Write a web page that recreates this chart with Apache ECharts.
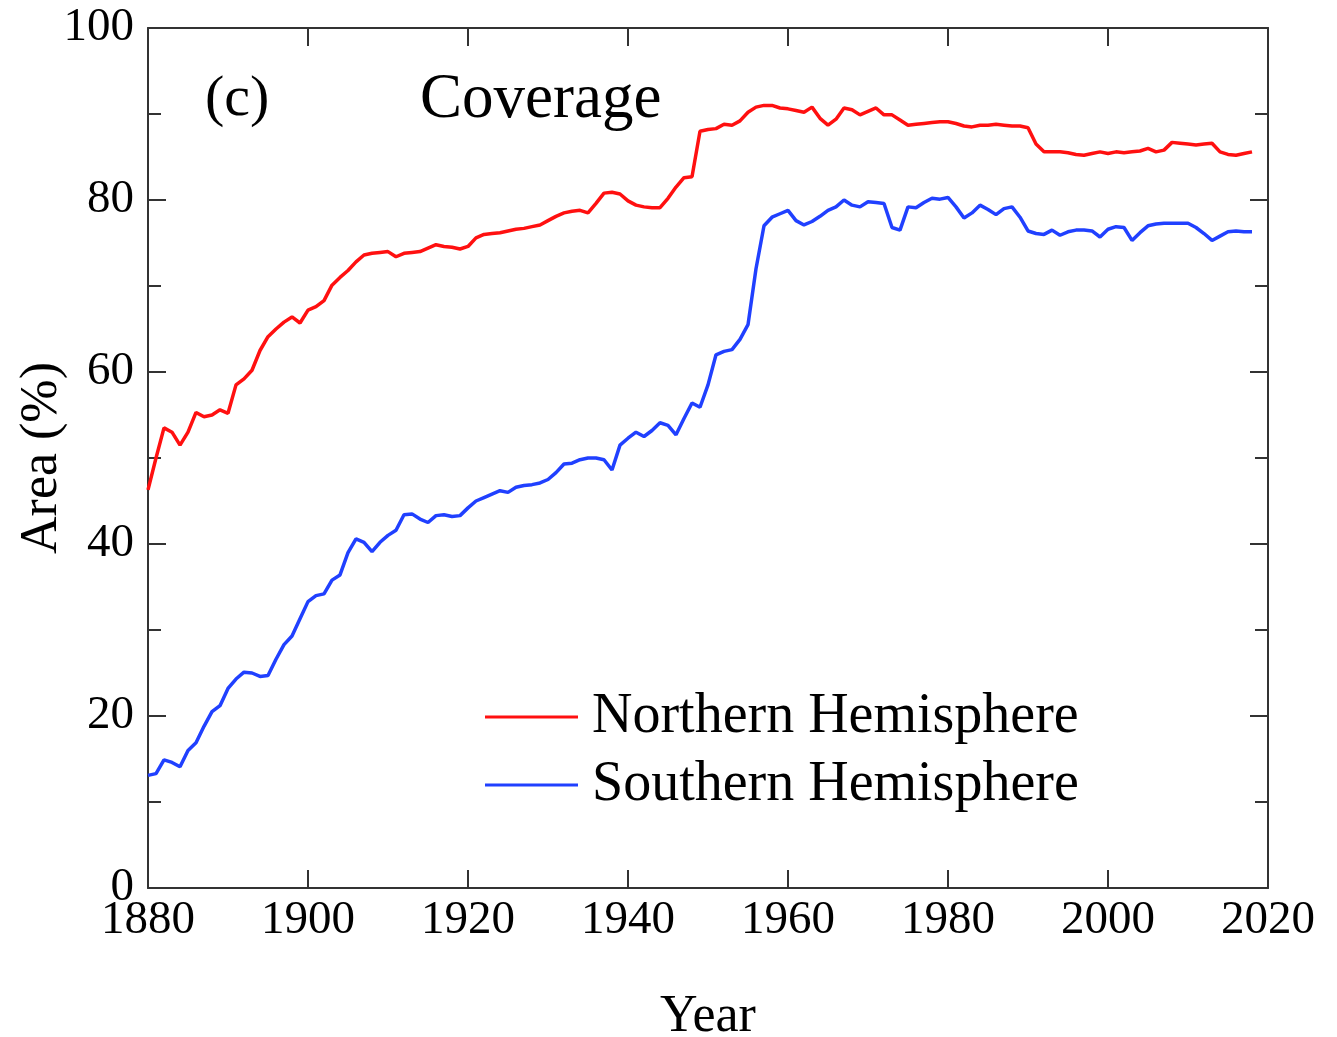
<!DOCTYPE html>
<html>
<head>
<meta charset="utf-8">
<title>Coverage</title>
<script src="https://cdn.jsdelivr.net/npm/echarts@6/dist/echarts.min.js"></script>
<style>
  html, body { margin: 0; padding: 0; background: #fff; }
  #chart { width: 1337px; height: 1037px; }
</style>
</head>
<body>
<div id="chart"></div>
<script>
// Annual station coverage (% of hemisphere area), 1880-2018
const firstYear = 1880;
const lastYear = 2018;

const northern = [
  46.3, 50.0, 53.5, 53.0, 51.5, 53.0, 55.3, 54.8, 55.0, 55.6,
  55.2, 58.5, 59.2, 60.2, 62.5, 64.1, 65.0, 65.8, 66.4, 65.7,
  67.2, 67.6, 68.3, 70.1, 71.0, 71.8, 72.8, 73.6, 73.8, 73.9,
  74.0, 73.4, 73.8, 73.9, 74.0, 74.4, 74.8, 74.6, 74.5, 74.3,
  74.6, 75.6, 76.0, 76.1, 76.2, 76.4, 76.6, 76.7, 76.9, 77.1,
  77.6, 78.1, 78.5, 78.7, 78.8, 78.5, 79.6, 80.8, 80.9, 80.7,
  79.9, 79.4, 79.2, 79.1, 79.1, 80.2, 81.5, 82.6, 82.7, 88.0,
  88.2, 88.3, 88.8, 88.7, 89.2, 90.2, 90.8, 91.0, 91.0, 90.7,
  90.6, 90.4, 90.2, 90.8, 89.5, 88.7, 89.4, 90.7, 90.5, 89.9,
  90.3, 90.7, 89.9, 89.9, 89.3, 88.7, 88.8, 88.9, 89.0, 89.1,
  89.1, 88.9, 88.6, 88.5, 88.7, 88.7, 88.8, 88.7, 88.6, 88.6,
  88.4, 86.5, 85.6, 85.6, 85.6, 85.5, 85.3, 85.2, 85.4, 85.6,
  85.4, 85.6, 85.5, 85.6, 85.7, 86.0, 85.6, 85.8, 86.7, 86.6,
  86.5, 86.4, 86.5, 86.6, 85.6, 85.3, 85.2, 85.4, 85.6
];

const southern = [
  13.1, 13.3, 14.9, 14.6, 14.1, 16.0, 16.9, 18.8, 20.5, 21.2,
  23.2, 24.3, 25.1, 25.0, 24.6, 24.7, 26.6, 28.3, 29.3, 31.3,
  33.3, 34.0, 34.2, 35.8, 36.4, 39.0, 40.6, 40.2, 39.1, 40.2,
  41.0, 41.6, 43.4, 43.5, 42.9, 42.5, 43.3, 43.4, 43.2, 43.3,
  44.2, 45.0, 45.4, 45.8, 46.2, 46.0, 46.6, 46.8, 46.9, 47.1,
  47.5, 48.3, 49.3, 49.4, 49.8, 50.0, 50.0, 49.8, 48.6, 51.5,
  52.3, 53.0, 52.5, 53.2, 54.1, 53.8, 52.7, 54.6, 56.4, 55.9,
  58.5, 62.0, 62.4, 62.6, 63.8, 65.5, 72.0, 77.0, 78.0, 78.4,
  78.8, 77.6, 77.1, 77.5, 78.1, 78.8, 79.2, 80.0, 79.4, 79.2,
  79.8, 79.7, 79.6, 76.8, 76.5, 79.2, 79.1, 79.7, 80.2, 80.1,
  80.3, 79.2, 77.9, 78.5, 79.4, 78.9, 78.3, 79.0, 79.2, 78.0,
  76.4, 76.1, 76.0, 76.5, 75.9, 76.3, 76.5, 76.5, 76.4, 75.7,
  76.6, 76.9, 76.8, 75.3, 76.2, 77.0, 77.2, 77.3, 77.3, 77.3,
  77.3, 76.8, 76.1, 75.3, 75.8, 76.3, 76.4, 76.3, 76.3
];

const yearTicks = [1880, 1900, 1920, 1940, 1960, 1980, 2000, 2020];
const areaTicks = [0, 20, 40, 60, 80, 100];

const seriesNames = ['Northern Hemisphere', 'Southern Hemisphere'];
const panelLabel = '(c)';
const panelTitle = 'Coverage';

const years = [];
for (let y = firstYear; y <= lastYear; y++) years.push(y);
const pairs = vals => years.map((y, i) => [y, vals[i]]);

const FONT = '"Liberation Serif", "Times New Roman", serif';
const FRAME = '#333333';

const chart = echarts.init(document.getElementById('chart'), null, { renderer: 'canvas' });

const frameAxis = {
  axisLine: { show: true, onZero: false, lineStyle: { color: FRAME, width: 2 } },
  axisTick: { show: true, inside: true, length: 18, lineStyle: { color: FRAME, width: 2 } },
  splitLine: { show: false }
};

const xBase = {
  type: 'value',
  min: yearTicks[0],
  max: yearTicks[yearTicks.length - 1],
  interval: 20
};
const yBase = {
  type: 'value',
  min: areaTicks[0],
  max: areaTicks[areaTicks.length - 1],
  interval: 20,
  minorTick: { show: true, splitNumber: 2, length: 13, lineStyle: { color: FRAME, width: 2 } }
};

chart.setOption({
  animation: false,
  backgroundColor: '#ffffff',
  grid: {
    left: 148, right: 69, top: 28, bottom: 149,
    containLabel: false,
    outerBoundsMode: 'none'
  },
  legend: {
    orient: 'vertical',
    left: 480,
    top: 682,
    itemWidth: 93,
    itemHeight: 3,
    itemGap: 8,
    icon: 'rect',
    data: seriesNames,
    textStyle: {
      fontFamily: FONT,
      fontSize: 56,
      color: '#000',
      lineHeight: 60,
      padding: [0, 0, 0, 9]
    }
  },
  graphic: [
    {
      type: 'text',
      left: 205,
      top: 71,
      style: { text: panelLabel, font: '58px ' + FONT, fill: '#000' }
    },
    {
      type: 'text',
      left: 420,
      top: 69,
      style: { text: panelTitle, font: '63px ' + FONT, fill: '#000' }
    }
  ],
  xAxis: [
    Object.assign({}, xBase, frameAxis, {
      position: 'bottom',
      name: 'Year',
      nameLocation: 'middle',
      nameGap: 103,
      nameMoveOverlap: false,
      nameTextStyle: { fontFamily: FONT, fontSize: 52, color: '#000' },
      axisLabel: {
        show: true, margin: 9, fontFamily: FONT, fontSize: 47, color: '#000',
        formatter: v => String(v)
      }
    }),
    Object.assign({}, xBase, frameAxis, {
      position: 'top',
      axisLabel: { show: false }
    })
  ],
  yAxis: [
    Object.assign({}, yBase, frameAxis, {
      position: 'left',
      name: 'Area (%)',
      nameLocation: 'middle',
      nameGap: 80,
      nameMoveOverlap: false,
      nameRotate: 90,
      nameTextStyle: { fontFamily: FONT, fontSize: 52, color: '#000' },
      axisLabel: { show: true, margin: 14, fontFamily: FONT, fontSize: 47, color: '#000' }
    }),
    Object.assign({}, yBase, frameAxis, {
      position: 'right',
      axisLabel: { show: false }
    })
  ],
  series: [
    {
      name: seriesNames[0],
      type: 'line',
      xAxisIndex: 0,
      yAxisIndex: 0,
      data: pairs(northern),
      showSymbol: false,
      symbol: 'none',
      color: '#ff1010',
      lineStyle: { color: '#ff1010', width: 3.5 }
    },
    {
      name: seriesNames[1],
      type: 'line',
      xAxisIndex: 0,
      yAxisIndex: 0,
      data: pairs(southern),
      showSymbol: false,
      symbol: 'none',
      color: '#2040ff',
      lineStyle: { color: '#2040ff', width: 3.5 }
    }
  ]
});
</script>
</body>
</html>
